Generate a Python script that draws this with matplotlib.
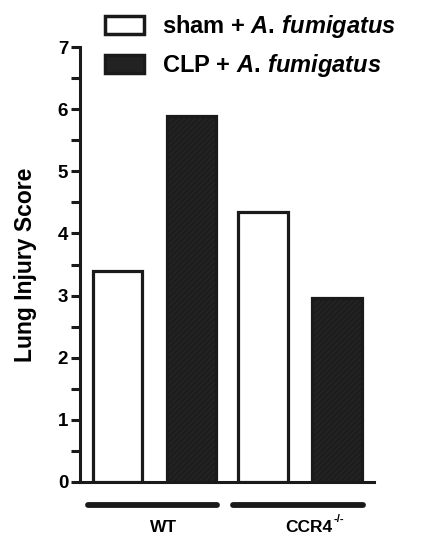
import matplotlib
matplotlib.use("Agg")
import matplotlib.pyplot as plt
from matplotlib.patches import Patch
import numpy as np

plt.rcParams['font.family'] = ['Liberation Sans', 'DejaVu Sans']
plt.rcParams['font.weight'] = 'bold'
plt.rcParams['mathtext.fontset'] = 'custom'
plt.rcParams['mathtext.bf'] = 'Liberation Sans:bold'
plt.rcParams['mathtext.rm'] = 'Liberation Sans:bold'
plt.rcParams['mathtext.it'] = 'Liberation Sans:bold:italic'
plt.rcParams['hatch.color'] = '#2e2e2e'
plt.rcParams['hatch.linewidth'] = 0.8

groups = ['WT', 'CCR4']
group_sup = ['', '-/-']
series = [r'sham + $\mathit{A.\,fumigatus}$', r'CLP + $\mathit{A.\,fumigatus}$']
sham = [3.40, 4.35]
clp = [5.89, 2.96]

fig = plt.figure(figsize=(4.23, 5.43), dpi=100)
W, H = 423, 543
left, right, top, bottom = 80, 374, 47, 482
ax = fig.add_axes([left / W, 1 - bottom / H, (right - left) / W, (bottom - top) / H])

x = np.arange(len(groups))
off = 0.254
bw = 0.34
lw = 2.3
ax.bar(x - off, sham, bw, facecolor='white', edgecolor='#1a1a1a', linewidth=lw, zorder=3)
ax.bar(x + off, clp, bw, facecolor='#222222', edgecolor='#1a1a1a', linewidth=lw, zorder=3,
       hatch='//////')

ax.set_xlim(-0.512, 1.509)
ax.set_ylim(0, 7)
for s in ['top', 'right']:
    ax.spines[s].set_visible(False)
for s in ['left', 'bottom']:
    ax.spines[s].set_linewidth(2.2)
    ax.spines[s].set_color('#1a1a1a')
ax.set_yticks(np.arange(0, 8, 1))
ax.set_yticks(np.arange(0.5, 7, 1), minor=True)
ax.tick_params(axis='y', which='major', length=6.5, width=2.2, labelsize=13.5, pad=2, color='#1a1a1a')
ax.tick_params(axis='y', which='minor', length=6.5, width=2.2, color='#1a1a1a')
ax.set_xticks([])
for lab in ax.get_yticklabels():
    lab.set_fontweight('bold')
ax.set_ylabel('Lung Injury Score', fontsize=16.5, fontweight='bold', labelpad=15)

# group lines
for xi in x:
    ax.plot([xi - 0.457, xi + 0.43], [-0.37, -0.37], color='#1a1a1a', lw=4.2,
            solid_capstyle='round', clip_on=False)
for xi, g, sup in zip(x, groups, group_sup):
    t = ax.text(xi + 0.06, -0.73, g, ha='center', va='center', fontsize=12.5, fontweight='bold')
    if sup:
        ax.annotate(sup, xy=(1, 1), xycoords=t, xytext=(1, -3), textcoords='offset points',
                    ha='left', va='bottom', fontsize=8, fontweight='bold')

handles = [Patch(facecolor='white', edgecolor='#1a1a1a', linewidth=2.5),
           Patch(facecolor='#222222', edgecolor='#1a1a1a', linewidth=2.5)]
leg = fig.legend(handles, series, loc='upper left', bbox_to_anchor=(96 / W, 1 - 4 / H),
                 frameon=False, fontsize=17, handlelength=1.65, handleheight=0.82,
                 labelspacing=0.5, handletextpad=0.75, borderaxespad=0)
for t in leg.get_texts():
    t.set_fontweight('bold')

fig.savefig('out.png', dpi=100)
